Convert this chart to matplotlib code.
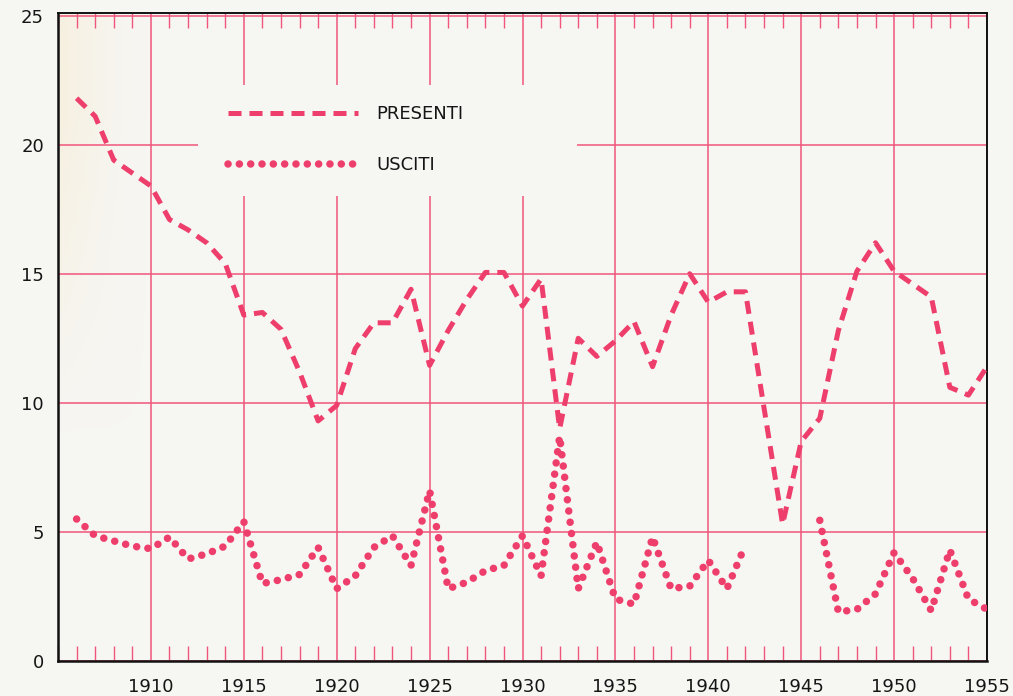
import numpy as np
import matplotlib
matplotlib.use("Agg")
import matplotlib.pyplot as plt
from matplotlib.patches import Rectangle
from matplotlib.ticker import MultipleLocator

# Yearly values, 1906-1955
years = list(range(1906, 1956))

presenti = [21.8, 21.1, 19.4, 18.9, 18.4, 17.1, 16.7, 16.2, 15.4, 13.4,
            13.5, 12.85, 11.2, 9.3, 9.9, 12.1, 13.1, 13.1, 14.4, 11.45,
            12.8, 14.0, 15.05, 15.05, 13.75, 14.8, 9.0, 12.5, 11.8, 12.4,
            13.15, 11.4, 13.4, 15.0, 13.9, 14.3, 14.3, 9.8, 5.3, 8.5,
            9.4, 12.8, 15.1, 16.2, 15.1, 14.6, 14.1, 10.6, 10.3, 11.4]

usciti = [5.5, 4.85, 4.65, 4.45, 4.35, 4.8, 3.95, 4.15, 4.45, 5.4,
          3.0, 3.15, 3.35, 4.4, 2.8, 3.3, 4.4, 4.85, 3.7, 6.6,
          2.8, 3.05, 3.5, 3.7, 4.85, 3.3, 8.7, 2.8, 4.6, 2.4,
          2.2, 4.8, 2.8, 2.9, 3.9, 2.8, 4.5, np.nan, np.nan, np.nan,
          5.45, 1.9, 2.0, 2.6, 4.2, 3.2, 1.95, 4.3, 2.4, 2.0]

series_labels = ["PRESENTI", "USCITI"]
x_tick_years = list(range(1910, 1956, 5))
y_ticks = [0, 5, 10, 15, 20, 25]

INK = "#ee3f6c"
GRID = "#f0557c"
PAPER = "#f6f6f3"

plt.rcParams["font.family"] = ["DejaVu Sans"]

W, H = 1013, 696
fig = plt.figure(figsize=(W / 100, H / 100), dpi=100, facecolor=PAPER)
ax = fig.add_axes([58 / W, (H - 661) / H, 929 / W, 648 / H])
ax.set_facecolor(PAPER)

ax.set_xlim(1905, 1955)
ax.set_ylim(0, 25.1)

# faint cream tint of the paper along the left edge, fading right and down
gx = np.linspace(1, 0, 200)[None, :] ** 1.5
gy = np.clip(np.linspace(1.3, -0.2, 200)[:, None], 0, 1)
tint = np.zeros((200, 200, 4))
tint[..., :3] = matplotlib.colors.to_rgb("#f7ecd2")
tint[..., 3] = gx * gy * 0.6
ax.imshow(tint, extent=[0, 0.1, 0.25, 1.0], transform=ax.transAxes,
          aspect="auto", zorder=0, interpolation="bilinear")

# grid
ax.set_xticks(x_tick_years)
ax.set_xticklabels([str(y) for y in x_tick_years])
ax.set_yticks(y_ticks)
ax.set_yticklabels([str(v) for v in y_ticks])
ax.xaxis.set_minor_locator(MultipleLocator(1))
ax.grid(True, which="major", color=GRID, linewidth=1.1, zorder=0.5)
ax.set_axisbelow(True)

ax.tick_params(axis="both", which="major", length=0, labelsize=13,
               labelcolor="#151515")
ax.tick_params(axis="x", which="major", pad=12)
ax.tick_params(axis="y", which="major", pad=10)
ax.tick_params(axis="x", which="minor", direction="in", top=True,
               bottom=True, length=11, width=1.0, color=GRID)

for side, lw in (("left", 1.8), ("bottom", 1.8), ("top", 1.4), ("right", 1.4)):
    ax.spines[side].set_color("#111111")
    ax.spines[side].set_linewidth(lw)

# blank panel behind the key
ax.add_patch(Rectangle((0.151, 0.718), 0.408, 0.171, transform=ax.transAxes,
                       facecolor=PAPER, edgecolor="none", zorder=1))

ax.plot(years, presenti, color=INK, linewidth=3.6,
        linestyle=(0, (2.6, 1.6)), dash_capstyle="butt",
        label=series_labels[0], zorder=3)
ax.plot(years, usciti, color=INK, linewidth=5.4,
        linestyle=(0, (0.01, 1.5)), dash_capstyle="round",
        label=series_labels[1], zorder=3)

leg = ax.legend(loc="upper left", bbox_to_anchor=(0.183, 0.858),
                frameon=False, fontsize=13, handlelength=7.2,
                handletextpad=1.0, labelspacing=1.85, borderpad=0,
                borderaxespad=0)
for t in leg.get_texts():
    t.set_color("#151515")

fig.savefig("out.png", dpi=100, facecolor=PAPER)
